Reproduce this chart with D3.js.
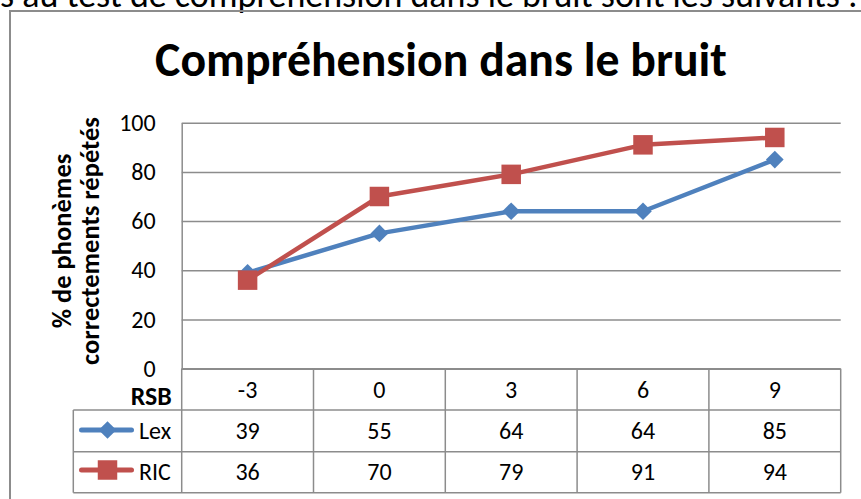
<!DOCTYPE html>
<html>
<head>
<meta charset="utf-8">
<script src="https://cdn.jsdelivr.net/npm/d3@7"></script>
<style>
  html, body { margin: 0; padding: 0; background: #fff; overflow: hidden; }
  svg { display: block; }
  text { font-family: Carlito, "Open Sans", sans-serif; fill: #000; }
</style>
</head>
<body>
<svg id="chart" width="861" height="499"></svg>
<script>
// Signal-to-noise ratios (dB) and the percentage of phonemes repeated correctly
const categories = ["-3", "0", "3", "6", "9"];
const lexValues = [39, 55, 64, 64, 85];
const ricValues = [36, 70, 79, 91, 94];
const yTicks = [0, 20, 40, 60, 80, 100];
const seriesNames = ["Lex", "RIC"];
const seriesColors = ["#4F81BD", "#C0504D"];

(function () {
const svg = d3.select("#chart");
const W = 861, H = 499;
const bodySize = 24;

// plot region
const plotLeft = 181.7, plotRight = 840.7, plotTop = 122.7, plotBottom = 368.7;
const rowEdges = [368.7, 410, 451.7, 492.7];
const tableLeft = 73.3;
const gray = "#8c8c8c";

const x = d3.scaleBand().domain(categories).range([plotLeft, plotRight]).paddingInner(0).paddingOuter(0);
const cx = c => x(c) + x.bandwidth() / 2;
const y = d3.scaleLinear().domain([0, 100]).range([plotBottom, plotTop]);

function fitWidth(sel, target) {
  const w = sel.node().getComputedTextLength();
  const fs = parseFloat(sel.attr("font-size"));
  sel.attr("font-size", fs * target / w);
  return fs * target / w;
}

// paragraph line running above the chart frame
const intro = svg.append("text")
  .attr("x", 0).attr("y", 6.5)
  .attr("font-size", 24)
  .text("s au test de compréhension dans le bruit sont les suivants :");
fitWidth(intro, 858);

// chart frame
svg.append("rect")
  .attr("x", 10).attr("y", 11)
  .attr("width", W + 50).attr("height", H + 50)
  .attr("fill", "none").attr("stroke", gray).attr("stroke-width", 2);

// title
const title = svg.append("text")
  .attr("x", 441).attr("y", 76)
  .attr("text-anchor", "middle")
  .attr("font-weight", "bold")
  .attr("font-size", 40)
  .text("Compréhension dans le bruit");
fitWidth(title, 572);

// y axis with gridlines
const yAxis = d3.axisLeft(y)
  .tickValues(yTicks)
  .tickSizeInner(-(plotRight - plotLeft))
  .tickSizeOuter(0)
  .tickPadding(26)
  .tickFormat(d3.format("d"));

const gy = svg.append("g")
  .attr("transform", `translate(${plotLeft},0)`)
  .call(yAxis);
gy.select(".domain").attr("stroke", gray).attr("stroke-width", 1.5);
gy.selectAll(".tick line").attr("stroke", gray).attr("stroke-width", 1.5);
gy.selectAll(".tick text")
  .attr("font-family", 'Carlito, "Open Sans", sans-serif')
  .attr("font-size", bodySize)
  .attr("fill", "#000");

// y axis title (two lines, rotated)
const yTitle = svg.append("g").attr("transform", "translate(0,241) rotate(-90)");
const yl1 = yTitle.append("text")
  .attr("x", 0).attr("y", 71)
  .attr("text-anchor", "middle")
  .attr("font-weight", "bold").attr("font-size", 22)
  .text("% de phonèmes");
const yl2 = yTitle.append("text")
  .attr("x", 0).attr("y", 99)
  .attr("text-anchor", "middle")
  .attr("font-weight", "bold").attr("font-size", 22)
  .text("correctements répétés");
const yfs = fitWidth(yl2, 248);
yl1.attr("font-size", yfs);

// data table grid
const grid = svg.append("g").attr("stroke", gray).attr("stroke-width", 1.5).attr("fill", "none");
grid.append("line").attr("x1", plotLeft).attr("x2", plotRight).attr("y1", rowEdges[0]).attr("y2", rowEdges[0]);
[1, 2, 3].forEach(i => {
  grid.append("line").attr("x1", tableLeft).attr("x2", plotRight)
    .attr("y1", rowEdges[i]).attr("y2", rowEdges[i]);
});
grid.append("line").attr("x1", tableLeft).attr("x2", tableLeft).attr("y1", rowEdges[1]).attr("y2", rowEdges[3]);
categories.forEach(c => {
  grid.append("line").attr("x1", x(c)).attr("x2", x(c)).attr("y1", rowEdges[0]).attr("y2", rowEdges[3]);
});
grid.append("line").attr("x1", plotRight).attr("x2", plotRight).attr("y1", rowEdges[0]).attr("y2", rowEdges[3]);

// axis title in the header row
const rsb = svg.append("text")
  .attr("x", 171.7).attr("y", 405)
  .attr("text-anchor", "end")
  .attr("font-weight", "bold").attr("font-size", 19)
  .text("RSB");
fitWidth(rsb, 41);

// header row: category labels
svg.append("g").selectAll("text").data(categories).join("text")
  .attr("x", d => cx(d)).attr("y", 398)
  .attr("text-anchor", "middle").attr("font-size", bodySize)
  .text(d => d);

// value rows
const allSeries = [lexValues, ricValues];
const rowBaselines = [438.5, 480];
allSeries.forEach((vals, si) => {
  svg.append("g").selectAll("text").data(vals).join("text")
    .attr("x", (d, i) => cx(categories[i])).attr("y", rowBaselines[si])
    .attr("text-anchor", "middle").attr("font-size", bodySize)
    .text(d => d);
});

// marker shapes
const diamondPath = d3.symbol().type(d3.symbolSquare).size(12.5 * 12.5)();
const squarePath = d3.symbol().type(d3.symbolSquare).size(19.5 * 19.5)();
function drawMarker(g, si, px, py) {
  const p = g.append("path")
    .attr("d", si === 0 ? diamondPath : squarePath)
    .attr("fill", seriesColors[si]);
  if (si === 0) p.attr("transform", `translate(${px},${py}) rotate(45)`);
  else p.attr("transform", `translate(${px},${py})`);
}

// series lines and markers
const line = d3.line()
  .x((d, i) => cx(categories[i]))
  .y(d => y(d));

allSeries.forEach((vals, si) => {
  const g = svg.append("g");
  g.append("path")
    .datum(vals)
    .attr("d", line)
    .attr("fill", "none")
    .attr("stroke", seriesColors[si])
    .attr("stroke-width", 4.5)
    .attr("stroke-linejoin", "round");
  vals.forEach((v, i) => drawMarker(g, si, cx(categories[i]), y(v)));
});

// legend keys inside the table
const legendY = [430, 470];
seriesNames.forEach((name, si) => {
  const g = svg.append("g");
  g.append("line")
    .attr("x1", 81.5).attr("x2", 131.5)
    .attr("y1", legendY[si]).attr("y2", legendY[si])
    .attr("stroke", seriesColors[si]).attr("stroke-width", 5)
    .attr("stroke-linecap", "round");
  drawMarker(g, si, 107.5, legendY[si]);
  g.append("text")
    .attr("x", 139).attr("y", rowBaselines[si])
    .attr("font-size", bodySize)
    .text(name);
});
})();
</script>
</body>
</html>
